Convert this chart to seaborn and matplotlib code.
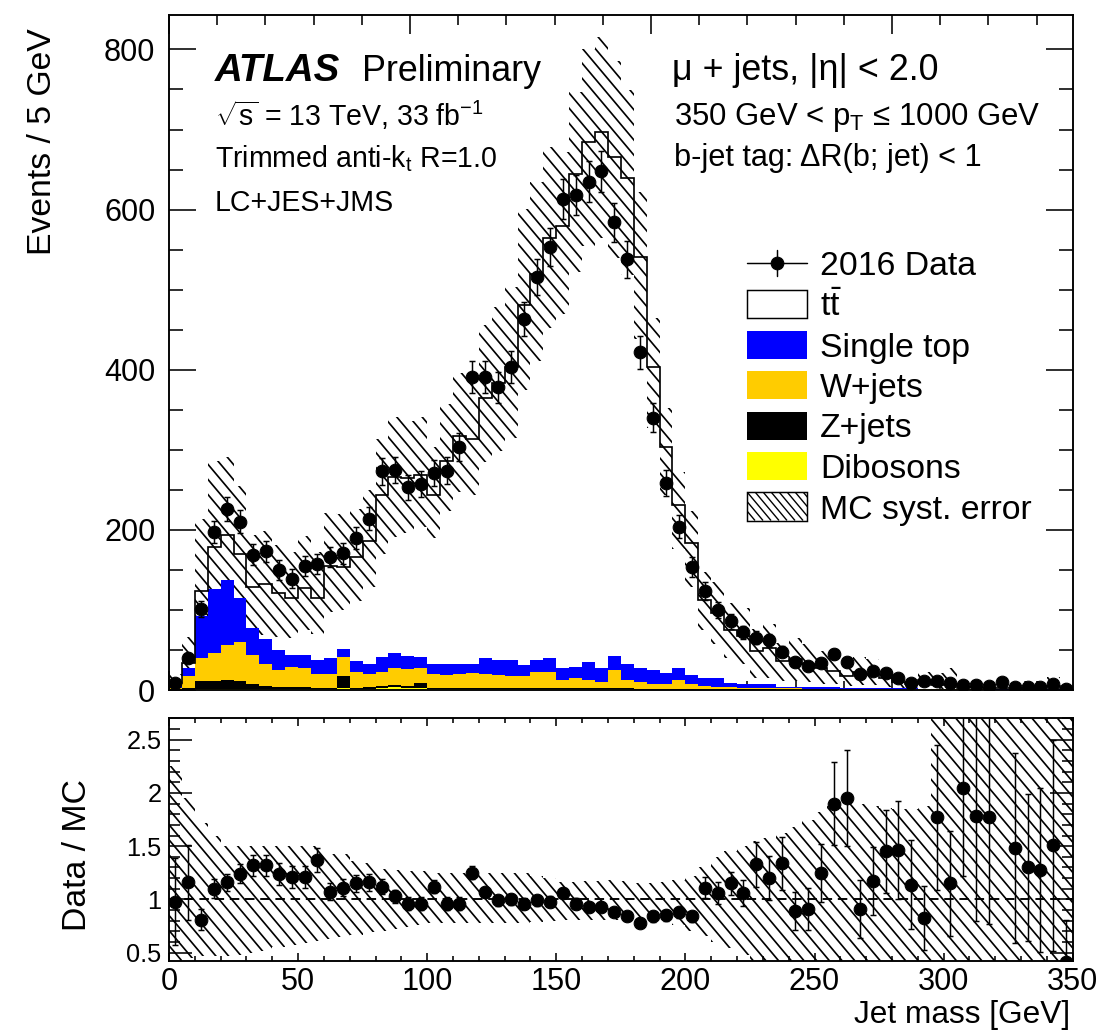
import numpy as np
import pandas as pd
import matplotlib
matplotlib.use("Agg")
import matplotlib.pyplot as plt
import seaborn as sns
from matplotlib.patches import Rectangle
from matplotlib.lines import Line2D
from matplotlib.collections import LineCollection
from matplotlib.transforms import IdentityTransform
from matplotlib.ticker import MultipleLocator, FixedLocator, FuncFormatter

# ---------------- data ----------------
bin_edges = np.arange(0, 355, 5)          # 70 bins of 5 GeV, 0-350 GeV
bin_centers = bin_edges[:-1] + 2.5

data = [9, 40, 101, 197, 226, 210, 169, 173, 150, 139,
        155, 157, 166, 171, 190, 214, 273, 275, 253, 257,
        271, 274, 303, 391, 391, 378, 403, 463, 516, 553,
        613, 618, 635, 648, 584, 538, 422, 340, 259, 204,
        154, 124, 100, 86, 72, 65, 62, 48, 35, 30,
        34, 45, 35, 20, 24, 21, 15, 9, 11, 11,
        9, 6, 6, 5, 10, 4, 4, 4, 7, 1]

data_err = [3.0, 6.3, 10.0, 14.0, 15.0, 14.5, 13.0, 13.2, 12.2, 11.8,
            12.5, 12.5, 12.9, 13.1, 13.8, 14.6, 16.5, 16.6, 15.9, 16.0,
            16.5, 16.6, 17.4, 19.8, 19.8, 19.4, 20.1, 21.5, 22.7, 23.5,
            24.8, 24.9, 25.2, 25.5, 24.2, 23.2, 20.5, 18.4, 16.1, 14.3,
            12.4, 11.1, 10.0, 9.3, 8.5, 8.1, 7.9, 6.9, 5.9, 5.5,
            5.8, 6.7, 5.9, 4.5, 4.9, 4.6, 3.9, 3.0, 3.3, 3.3,
            3.0, 2.4, 2.4, 2.2, 3.2, 2.0, 2.0, 2.0, 2.6, 1.0]

ttbar = [2, 6, 31, 53, 56, 55, 52, 68, 71, 71,
         84, 77, 115, 103, 130, 153, 202, 220, 223, 227,
         210, 253, 284, 280, 325, 346, 366, 450, 483, 525,
         552, 615, 649, 670, 623, 607, 514, 379, 283, 204,
         164, 98, 81, 66, 60, 42, 45, 32, 35, 29.5,
         23.8, 20.8, 15.1, 19.3, 18.2, 12.2, 8.4, 6.0, 10.6, 4.9,
         6.5, 1.9, 2.4, 1.8, 1.4, 1.9, 2.4, 2.4, 3.9, 1.7]

single_top = [5, 10.5, 53, 80, 82, 55, 33, 31, 25, 15,
              17, 18, 20, 10, 13, 13, 19, 19, 16, 14,
              13, 14, 13, 12, 20, 18, 20, 14, 14, 17,
              15, 14, 23, 17, 18, 21, 17, 17, 13, 14,
              11, 10, 11, 5.5, 5, 4, 4, 2, 2, 1.9,
              1.6, 1.6, 1.3, 1.3, 1.0, 1.0, 0.6, 0.6, 0.5, 0.4,
              0.4, 0.2, 0.2, 0.2, 0.2, 0.2, 0.1, 0.1, 0.1, 0.1]

wjets = [1.0, 15.0, 28.4, 34.4, 44.0, 49.0, 36.5, 27.5, 21.0, 25.5,
         23.5, 17.0, 17.0, 24.0, 20.0, 16.5, 17.0, 21.0, 21.0, 18.0,
         17.0, 16.5, 17.5, 18.5, 17.5, 17.0, 15.0, 15.0, 21.0, 21.0,
         10.0, 13.0, 10.0, 8.0, 23.0, 10.0, 8.5, 6.5, 6.5, 11.5,
         6.5, 4.0, 3.0, 2.5, 2.0, 2.2, 2.2, 1.4, 1.4, 1.2,
         1.2, 1.2, 1.2, 1.0, 1.0, 1.0, 1.0, 1.0, 0.6, 0.6,
         0.6, 0.6, 0.6, 0.6, 0.4, 0.4, 0.4, 0.4, 0.4, 0.4]

zjets = [0.7, 2.0, 10.6, 10.6, 10.8, 9.8, 6.5, 4.5, 3.0, 2.5,
         2.5, 2.0, 2.0, 15.0, 2.0, 2.0, 3.0, 2.0, 2.0, 7.0,
         2.0, 1.5, 1.5, 1.5, 1.5, 1.0, 1.0, 1.0, 1.0, 1.0,
         1.0, 1.0, 1.0, 1.0, 1.0, 1.0, 1.0, 1.0, 1.0, 1.0,
         1.0, 0.5, 0.5, 0.7, 0.7, 0.5, 0.5, 0.4, 0.4, 0.2,
         0.2, 0.2, 0.2, 0.2, 0.2, 0.2, 0.2, 0.2, 0.2, 0.2,
         0.2, 0.1, 0.1, 0.1, 0.1, 0.1, 0.1, 0.1, 0.1, 0.1]

dibosons = [0.3, 0.5, 1.0, 1.0, 1.2, 1.2, 1.0, 1.0, 1.0, 1.0,
            1.0, 1.0, 1.0, 2.0, 1.0, 1.5, 2.0, 4.0, 3.0, 2.0,
            1.0, 1.0, 1.0, 1.0, 1.0, 1.0, 1.0, 1.0, 1.0, 1.0,
            1.0, 1.0, 1.0, 1.0, 1.0, 1.0, 0.5, 0.5, 0.5, 0.5,
            0.5, 0.5, 0.5, 0.3, 0.3, 0.3, 0.3, 0.2, 0.2, 0.2,
            0.2, 0.2, 0.2, 0.2, 0.1, 0.1, 0.1, 0.1, 0.1, 0.1,
            0.1, 0.1, 0.1, 0.1, 0.1, 0.1, 0.1, 0.1, 0.1, 0.1]

ratio = [0.98, 1.16, 0.81, 1.10, 1.16, 1.24, 1.32, 1.32, 1.24, 1.21,
         1.21, 1.37, 1.07, 1.11, 1.15, 1.16, 1.12, 1.03, 0.96, 0.96,
         1.12, 0.96, 0.96, 1.25, 1.07, 0.99, 1.00, 0.96, 0.99, 0.98,
         1.06, 0.96, 0.93, 0.93, 0.88, 0.84, 0.78, 0.84, 0.85, 0.88,
         0.84, 1.11, 1.06, 1.15, 1.06, 1.33, 1.20, 1.34, 0.89, 0.91,
         1.25, 1.90, 1.95, 0.91, 1.17, 1.45, 1.46, 1.14, 0.83, 1.77,
         1.15, 2.05, 1.78, 1.77, 4.50, 1.48, 1.30, 1.28, 1.51, 0.41]

ratio_err = [0.41, 0.35, 0.10, 0.09, 0.08, 0.09, 0.10, 0.10, 0.10, 0.10,
             0.10, 0.11, 0.08, 0.08, 0.08, 0.08, 0.07, 0.06, 0.06, 0.06,
             0.06, 0.06, 0.06, 0.06, 0.05, 0.05, 0.05, 0.05, 0.05, 0.05,
             0.05, 0.05, 0.05, 0.05, 0.04, 0.04, 0.04, 0.05, 0.05, 0.05,
             0.05, 0.10, 0.10, 0.11, 0.12, 0.21, 0.21, 0.25, 0.18, 0.20,
             0.27, 0.39, 0.45, 0.27, 0.32, 0.39, 0.46, 0.42, 0.30, 0.68,
             0.49, 0.83, 0.98, 1.00, 1.60, 0.89, 0.69, 0.77, 0.99, 0.40]

syst_hi = [2.25, 1.95, 1.72, 1.60, 1.50, 1.50, 1.50, 1.50, 1.50, 1.50,
           1.50, 1.50, 1.43, 1.43, 1.36, 1.34, 1.29, 1.28, 1.27, 1.27,
           1.25, 1.25, 1.25, 1.25, 1.25, 1.25, 1.25, 1.25, 1.22, 1.20,
           1.16, 1.16, 1.17, 1.17, 1.18, 1.17, 1.15, 1.15, 1.16, 1.18,
           1.22, 1.30, 1.40, 1.45, 1.50, 1.55, 1.58, 1.62, 1.68, 1.75,
           1.82, 1.88, 1.90, 1.90, 1.88, 1.86, 1.85, 1.85, 1.88, 3.50,
           3.50, 3.50, 3.50, 3.50, 3.50, 3.50, 3.50, 3.50, 3.50, 3.50]

syst_lo = [0.30, 0.45, 0.47, 0.47, 0.47, 0.48, 0.50, 0.52, 0.55, 0.57,
           0.59, 0.61, 0.63, 0.65, 0.67, 0.69, 0.70, 0.72, 0.74, 0.76,
           0.78, 0.78, 0.78, 0.78, 0.78, 0.78, 0.78, 0.78, 0.79, 0.80,
           0.81, 0.81, 0.81, 0.81, 0.81, 0.81, 0.81, 0.81, 0.80, 0.76,
           0.70, 0.66, 0.60, 0.54, 0.48, 0.30, 0.30, 0.30, 0.30, 0.30,
           0.30, 0.30, 0.30, 0.30, 0.30, 0.30, 0.30, 0.30, 0.30, 0.30,
           0.30, 0.30, 0.30, 0.30, 0.30, 0.30, 0.30, 0.30, 0.30, 0.30]

bkg_names = ["Single top", "W+jets", "Z+jets", "Dibosons"]
bkg_colors = {"Single top": "#0000ff", "W+jets": "#ffcc00",
              "Z+jets": "#000000", "Dibosons": "#ffff00"}

# ---------------- style ----------------
sns.set_theme(style="ticks")
plt.rcParams.update({
    "font.family": ["Liberation Sans", "DejaVu Sans"],
    "mathtext.fontset": "custom",
    "mathtext.rm": "Liberation Sans",
    "mathtext.it": "Liberation Sans:italic",
    "mathtext.bf": "Liberation Sans:bold",
    "mathtext.sf": "Liberation Sans",
    "axes.linewidth": 1.8,
    "axes.edgecolor": "black",
    "text.color": "black",
    "axes.labelcolor": "black",
    "xtick.color": "black",
    "ytick.color": "black",
})

W, H, DPI = 1102, 1035, 76
fig = plt.figure(figsize=(W / DPI, H / DPI), dpi=DPI)
fig.patch.set_facecolor("white")

def fx(x):
    return x / W

def fy(y):
    return 1 - y / H

ax = fig.add_axes([fx(169), fy(690), fx(1072.7) - fx(169), fy(15) - fy(690)])
ax2 = fig.add_axes([fx(169), fy(960.7), fx(1072.7) - fx(169), fy(718.3) - fy(960.7)])

total = (np.array(ttbar) + np.array(single_top) + np.array(wjets)
         + np.array(zjets) + np.array(dibosons))
lo = np.array(syst_lo)
hi = np.array(syst_hi)

HATCH_SPACING = 12.7   # px, horizontal distance between hatch lines
HATCH_SLOPE = 1.19     # ~50 degrees, falling to the right
HATCH_LW = 1.6


def hatch_band(axis, lower, upper, z=2):
    """Step band between lower/upper, filled with ROOT-like diagonal hatching."""
    poly = axis.fill_between(bin_edges, np.append(lower, lower[-1]),
                             np.append(upper, upper[-1]), step="post",
                             facecolor="none", edgecolor="none", linewidth=0,
                             zorder=z)
    x0, y0, x1, y1 = axis.bbox.extents
    run = (y1 - y0) / HATCH_SLOPE
    xs = np.arange(x0 - run - HATCH_SPACING, x1 + HATCH_SPACING, HATCH_SPACING)
    segs = [[(x, y1), (x + run, y0)] for x in xs]
    lc = LineCollection(segs, colors="black", linewidths=HATCH_LW,
                        transform=IdentityTransform(), zorder=z)
    lc.set_clip_path(poly.get_paths()[0], axis.transData)
    lc.set_clip_box(axis.bbox)
    axis.add_collection(lc, autolim=False)


# ---------------- main panel ----------------
df = pd.DataFrame({
    "mass": np.tile(bin_centers, len(bkg_names)),
    "events": np.concatenate([single_top, wjets, zjets, dibosons]),
    "process": np.repeat(bkg_names, len(bin_centers)),
})

# MC systematic band (under the coloured backgrounds)
hatch_band(ax, total * lo, total * hi, z=2)

sns.histplot(data=df, x="mass", weights="events", hue="process",
             hue_order=bkg_names, palette=bkg_colors, multiple="stack",
             bins=bin_edges.tolist(), element="step", fill=True, alpha=1,
             linewidth=0, legend=False, ax=ax, zorder=3)

# ttbar outline (top of stack)
ax.stairs(total, bin_edges, color="black", linewidth=1.6, zorder=4)

ax.errorbar(bin_centers, data, yerr=data_err, fmt="o", color="black",
            ms=12, elinewidth=1.4, capsize=2.8, capthick=1.4, zorder=5)

ax.set_xlim(0, 350)
ax.set_ylim(0, 843)
ax.set_xlabel("")
ax.set_ylabel("Events / 5 GeV", fontsize=32, loc="top")
ax.yaxis.set_label_coords(-0.1405, 0.981)
ax.yaxis.label.set_verticalalignment("center")

ax.xaxis.set_major_locator(MultipleLocator(350 / 3.75))
ax.xaxis.set_minor_locator(MultipleLocator(350 / 18.75))
ax.yaxis.set_major_locator(MultipleLocator(200))
ax.yaxis.set_minor_locator(MultipleLocator(50))
ax.tick_params(axis="both", which="both", direction="in", top=True, right=True,
               width=1.5)
ax.tick_params(axis="y", which="major", length=26, labelsize=29, pad=13)
ax.tick_params(axis="y", which="minor", length=13)
ax.tick_params(axis="x", which="major", length=18, labelbottom=False)
ax.tick_params(axis="x", which="minor", length=9)
for s in ax.spines.values():
    s.set_zorder(10)

# ---------------- ratio panel ----------------
hatch_band(ax2, lo, hi, z=2)
ax2.axhline(1.0, color="black", linestyle=(0, (5, 3)), linewidth=1.8, zorder=3)
ax2.errorbar(bin_centers, ratio, yerr=ratio_err, fmt="o", color="black",
             ms=12, elinewidth=1.4, capsize=2.8, capthick=1.4, zorder=5)
ax2.set_xlim(0, 350)
ax2.set_ylim(0.425, 2.70)
ax2.xaxis.set_major_locator(MultipleLocator(50))
ax2.xaxis.set_minor_locator(MultipleLocator(10))
ax2.yaxis.set_major_locator(FixedLocator([0.5, 1.0, 1.5, 2.0, 2.5]))
ax2.yaxis.set_major_formatter(FuncFormatter(lambda v, p: f"{v:g}"))
ax2.yaxis.set_minor_locator(MultipleLocator(0.1))
ax2.tick_params(axis="both", which="both", direction="in", top=True, right=True,
                width=1.5)
ax2.tick_params(axis="x", which="major", length=8, labelsize=29, pad=6)
ax2.tick_params(axis="x", which="minor", length=5)
ax2.tick_params(axis="y", which="major", length=22, labelsize=24, pad=7)
ax2.tick_params(axis="y", which="minor", length=10.5)
ax2.set_xlabel("Jet mass [GeV]", fontsize=30, loc="right")
ax2.xaxis.set_label_coords(0.997, -0.223)
ax2.xaxis.label.set_verticalalignment("center")
ax2.set_ylabel("Data / MC", fontsize=32)
ax2.yaxis.set_label_coords(-0.1007, 0.437)
ax2.yaxis.label.set_verticalalignment("center")
for s in ax2.spines.values():
    s.set_zorder(10)

# ---------------- annotations ----------------
fig.text(fx(215), fy(81), "ATLAS", fontsize=36.5, fontweight="bold",
         fontstyle="italic", va="baseline")
fig.text(fx(362), fy(81), "Preliminary", fontsize=34, va="baseline")
fig.text(fx(215), fy(126), r"$\sqrt{\mathrm{s}}$ = 13 TeV, 33 fb$^{-1}$",
         fontsize=27, va="baseline")
fig.text(fx(215), fy(167), r"Trimmed anti-k$_{\mathrm{t}}$ R=1.0", fontsize=27,
         va="baseline")
fig.text(fx(215), fy(211), "LC+JES+JMS", fontsize=27, va="baseline")
fig.text(fx(672), fy(80), "\u03bc + jets, |\u03b7| < 2.0", fontsize=34,
         va="baseline")
fig.text(fx(674), fy(125), "350 GeV < p$_{\\mathrm{T}}$ \u2264 1000 GeV",
         fontsize=29.5, va="baseline")
fig.text(fx(674), fy(166), "b-jet tag: \u0394R(b; jet) < 1", fontsize=29,
         va="baseline")

# ---------------- legend (drawn in figure pixels) ----------------
leg_x0, leg_x1, box_h = 747, 807, 28
leg_rows = [263, 304, 344.5, 385, 425.5, 466, 506.5]
leg_labels = ["2016 Data", r"$\mathrm{t\bar{t}}$", "Single top", "W+jets",
              "Z+jets", "Dibosons", "MC syst. error"]
leg_fs = 32
for i, (yc, lab) in enumerate(zip(leg_rows, leg_labels)):
    if i == 0:
        fig.add_artist(Line2D([fx(leg_x0), fx(leg_x1)], [fy(yc), fy(yc)],
                              color="black", lw=1.4, transform=fig.transFigure))
        xm = (leg_x0 + leg_x1) / 2
        fig.add_artist(Line2D([fx(xm), fx(xm)], [fy(yc - 13), fy(yc + 13)],
                              color="black", lw=1.4, transform=fig.transFigure))
        fig.add_artist(Line2D([fx(xm)], [fy(yc)], marker="o", ms=12,
                              color="black", transform=fig.transFigure))
    else:
        if lab.startswith("$") or lab == "MC syst. error":
            kw = dict(facecolor="white", edgecolor="black", lw=1.4)
        else:
            c = bkg_colors[lab]
            kw = dict(facecolor=c, edgecolor=c, lw=0)
        rect = Rectangle((fx(leg_x0), fy(yc + box_h / 2)),
                         fx(leg_x1 - leg_x0), box_h / H,
                         transform=fig.transFigure, **kw)
        fig.add_artist(rect)
        if lab == "MC syst. error":
            top, bot = H - (yc - box_h / 2), H - (yc + box_h / 2)
            sp = 8.0
            run = (top - bot) / HATCH_SLOPE
            segs = [[(x, top), (x + run, bot)]
                    for x in np.arange(leg_x0 - run, leg_x1 + sp, sp)]
            lc = LineCollection(segs, colors="black", linewidths=1.3,
                                transform=IdentityTransform())
            lc.set_clip_path(rect)
            fig.add_artist(lc)
    fig.text(fx(820), fy(yc + 12), lab, fontsize=leg_fs, va="baseline")

fig.savefig("out.png", dpi=DPI, facecolor="white")
